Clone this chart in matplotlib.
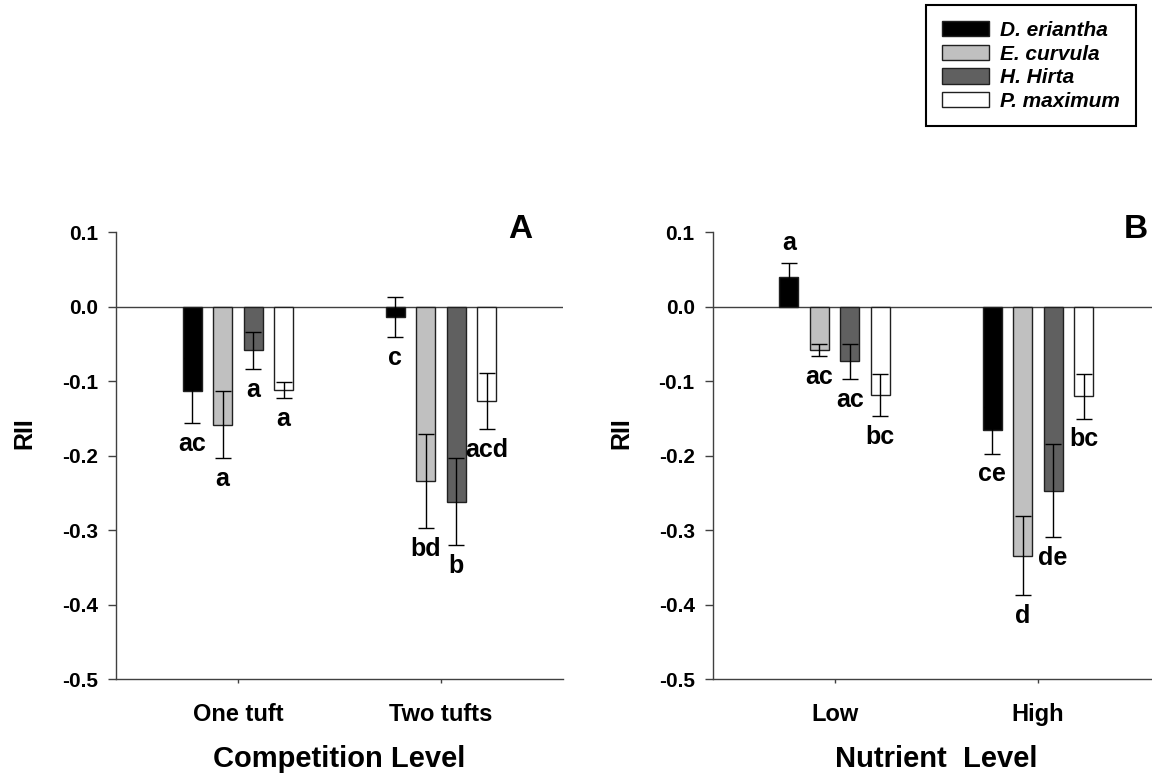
import numpy as np
import matplotlib
matplotlib.use('Agg')
import matplotlib.pyplot as plt

plt.rcParams['font.family'] = ['Liberation Sans', 'DejaVu Sans']
plt.rcParams['font.weight'] = 'bold'

species = ['D. eriantha', 'E. curvula', 'H. Hirta', 'P. maximum']
colors = ['#000000', '#c0c0c0', '#606060', '#ffffff']

comp_levels = ['One tuft', 'Two tufts']
comp_means = [[-0.113, -0.159, -0.0586, -0.112],
              [-0.0143, -0.234, -0.262, -0.127]]
comp_err = [[0.044, 0.045, 0.025, 0.011],
            [0.027, 0.063, 0.058, 0.038]]
comp_letters = [['ac', 'a', 'a', 'a'],
                ['c', 'bd', 'b', 'acd']]

nut_levels = ['Low', 'High']
nut_means = [[0.0398, -0.0586, -0.0738, -0.119],
             [-0.1664, -0.3347, -0.247, -0.1204]]
nut_err = [[0.018, 0.0077, 0.024, 0.028],
           [0.031, 0.053, 0.063, 0.030]]
nut_letters = [['a', 'ac', 'ac', 'bc'],
               ['ce', 'd', 'de', 'bc']]

yticks = [0.1, 0.0, -0.1, -0.2, -0.3, -0.4, -0.5]

fig = plt.figure(figsize=(11.52, 7.77), dpi=100)
axA = fig.add_axes([0.1007, 0.1261, 0.388, 0.5753])
axB = fig.add_axes([0.6187, 0.1261, 0.388, 0.5753])

offsets = [-0.225, -0.075, 0.075, 0.225]
width = 0.093
axcol = '#404040'


def panel(ax, levels, means, errs, letters, xlabel, tag):
    means = np.array(means)
    errs = np.array(errs)
    groups = np.arange(1, len(levels) + 1)
    ax.axhline(0, color=axcol, lw=1, zorder=1)
    for k in range(len(species)):
        xs = groups + offsets[k]
        ax.bar(xs, means[:, k], width=width, color=colors[k], edgecolor='#202020',
               linewidth=1, label=species[k], zorder=2)
        ax.errorbar(xs, means[:, k], yerr=errs[:, k], fmt='none', ecolor='black',
                    elinewidth=1, capsize=5.5, capthick=1, zorder=3)
        for g in range(len(levels)):
            m = means[g, k]
            e = errs[g, k]
            if m >= 0:
                y = m + e + 0.028
            else:
                y = m - e - 0.028
            ax.text(xs[g], y, letters[g][k], ha='center', va='center',
                    fontsize=18, fontweight='bold')
    ax.set_xlim(0.4, 2.6)
    ax.set_ylim(-0.5, 0.1)
    ax.set_yticks(yticks)
    ax.set_yticklabels(['%.1f' % t for t in yticks], fontsize=15, fontweight='bold')
    ax.set_xticks(groups)
    ax.set_xticklabels(levels, fontsize=17, fontweight='bold')
    ax.tick_params(axis='y', direction='out', length=6, width=1, color=axcol, pad=7)
    ax.tick_params(axis='x', direction='out', length=3, width=1, color=axcol, pad=14)
    for s in ['top', 'right']:
        ax.spines[s].set_visible(False)
    for s in ['left', 'bottom']:
        ax.spines[s].set_color(axcol)
        ax.spines[s].set_linewidth(1)
    ax.set_ylabel('RII', fontsize=18, fontweight='bold')
    ax.yaxis.set_label_coords(-0.178, 0.55)
    ax.set_xlabel(xlabel, fontsize=21, fontweight='bold', labelpad=14)
    ax.text(2.39 if tag == 'A' else 2.48, 0.104, tag, ha='center', va='center',
            fontsize=24, fontweight='bold')


panel(axA, comp_levels, comp_means, comp_err, comp_letters, 'Competition Level', 'A')
panel(axB, nut_levels, nut_means, nut_err, nut_letters, 'Nutrient  Level', 'B')

handles, labels = axA.get_legend_handles_labels()
leg = fig.legend(handles, labels, loc='upper right', bbox_to_anchor=(0.986, 0.993),
                 fancybox=False, edgecolor='black', framealpha=1,
                 prop={'size': 15, 'weight': 'bold', 'style': 'italic'},
                 handlelength=2.25, handleheight=0.75, handletextpad=0.55,
                 labelspacing=0.22, borderpad=0.75, borderaxespad=0)
leg.get_frame().set_linewidth(1.5)

fig.savefig('out.png', dpi=100)
